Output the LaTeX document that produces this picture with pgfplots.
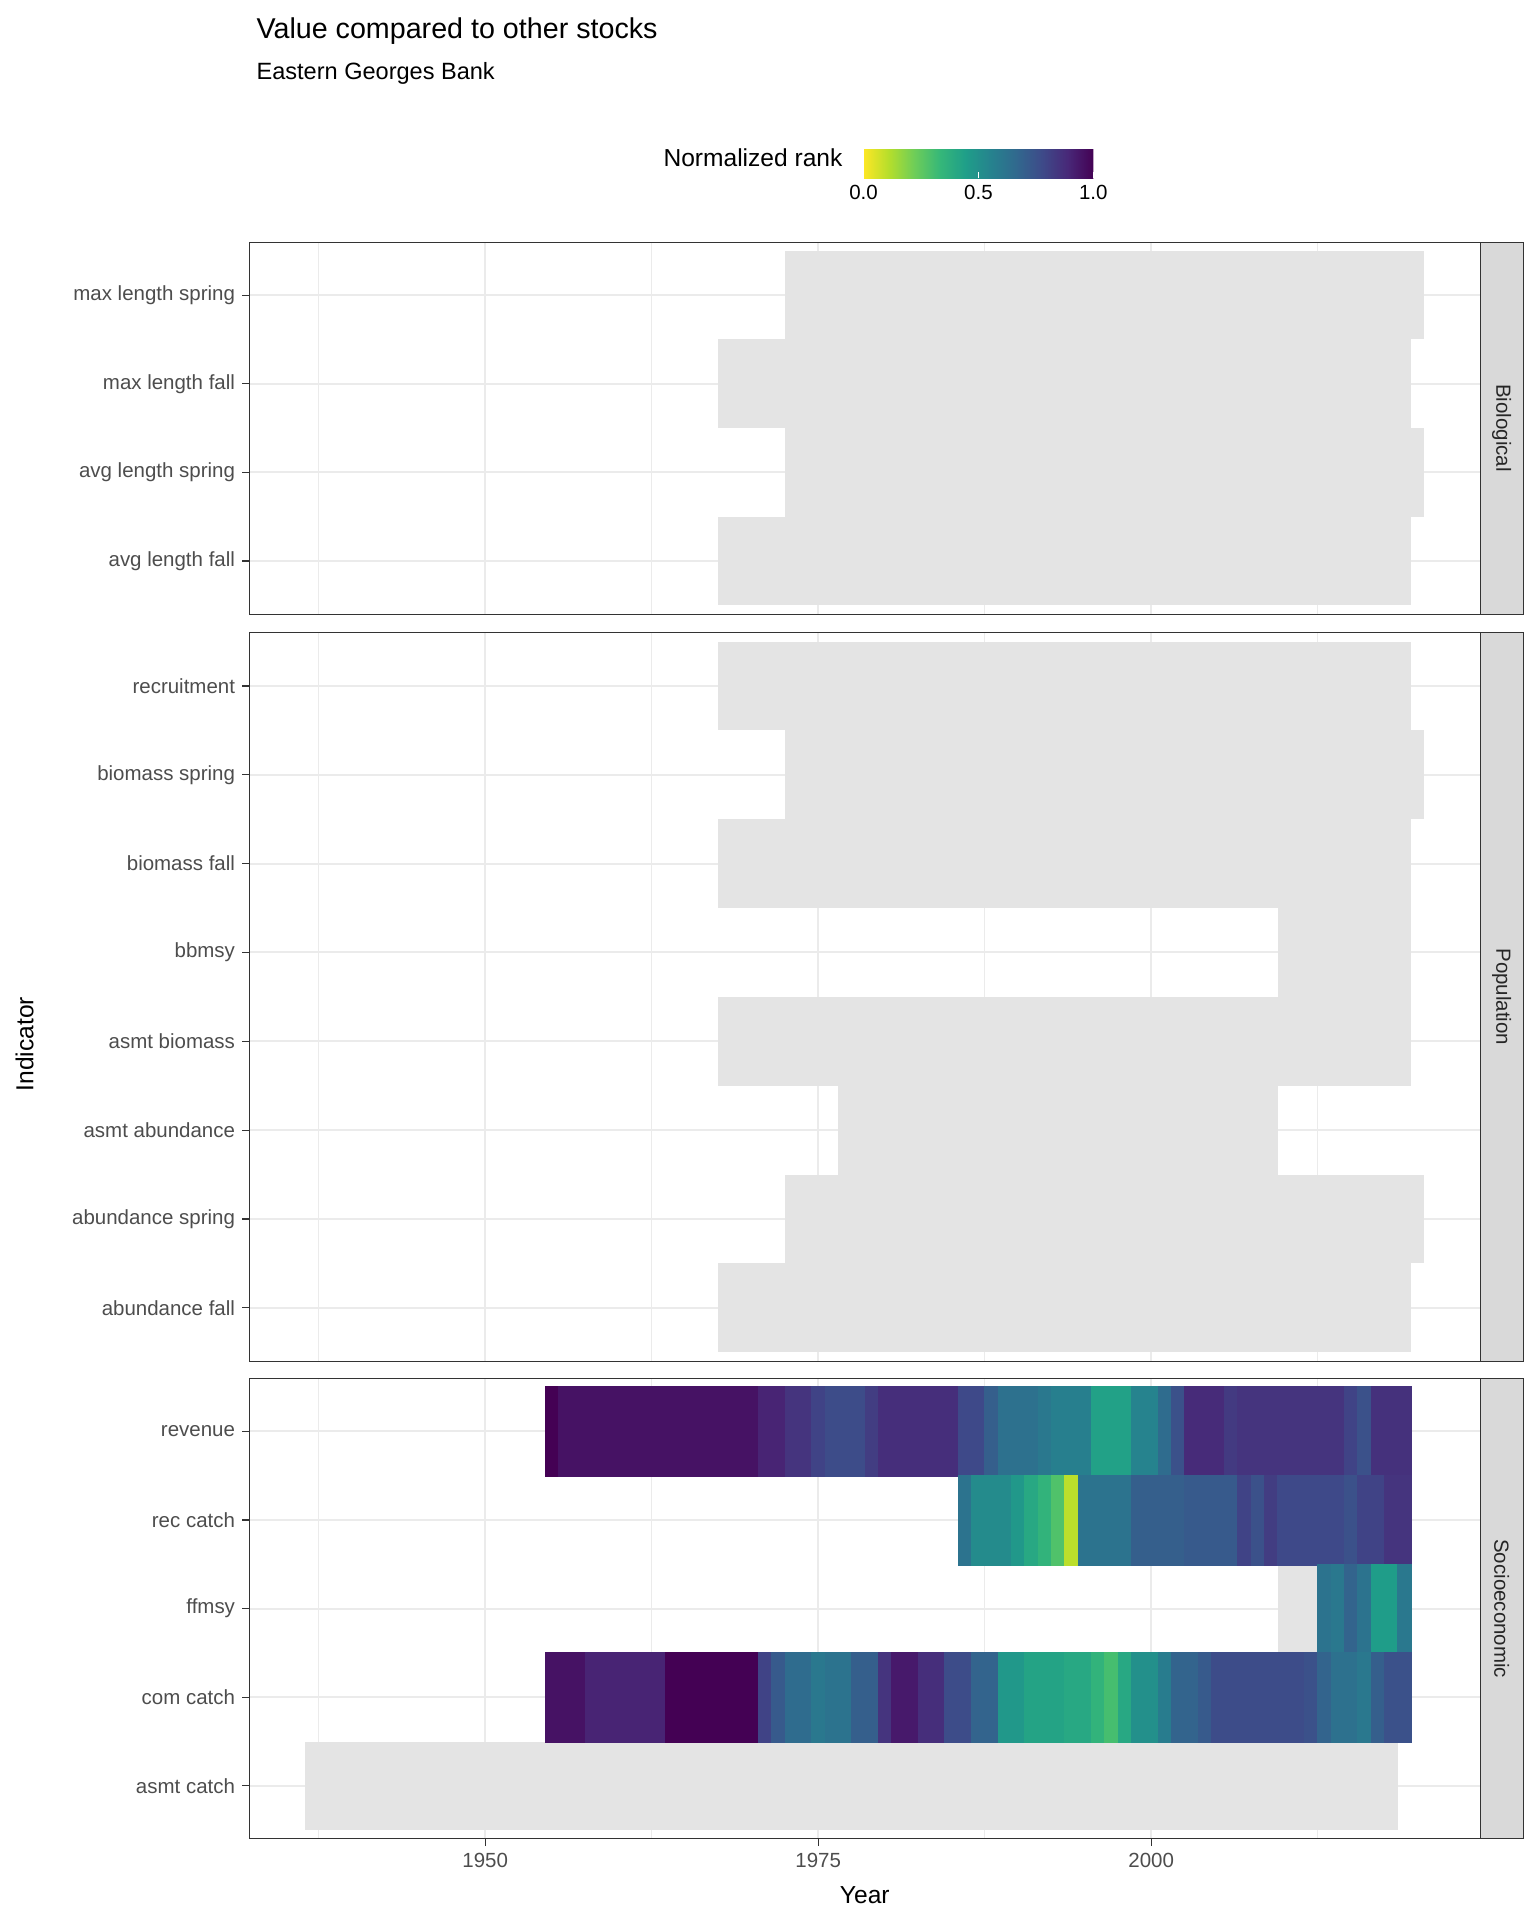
\documentclass[border=0pt]{standalone}
\usepackage{pgfplots}
\pgfplotsset{compat=1.18}
\usetikzlibrary{calc}
\usepackage{fontspec}
\setmainfont{Liberation Sans}
\definecolor{tile}{HTML}{E4E4E4}
\definecolor{gridc}{HTML}{EBEBEB}
\definecolor{tickc}{HTML}{4D4D4D}
\definecolor{frame}{HTML}{333333}
\definecolor{strip}{HTML}{D9D9D9}
\pgfplotsset{
  colormap={vr}{rgb255=(253,231,37) rgb255=(180,222,44) rgb255=(109,205,89) rgb255=(53,183,121) rgb255=(31,158,137) rgb255=(38,130,142) rgb255=(49,104,142) rgb255=(62,74,137) rgb255=(72,40,120) rgb255=(68,1,84)},
  panel/.style={scale only axis, width=601.2pt, xmin=1932.3, xmax=2024.7,
    point meta min=0, point meta max=1,
    axis line style={frame, line width=0.5pt},
    xtick={1950,1975,2000}, minor xtick={1937.5,1962.5,1987.5,2012.5},
    grid=both, major grid style={gridc, line width=1pt}, minor grid style={gridc, line width=0.5pt},
    ytick pos=left, xtick pos=bottom, tick align=outside,
    major tick length=3.5pt, minor tick length=0pt,
    tick style={frame, line width=0.6pt},
    yticklabel style={font=\fontsize{10}{12}\selectfont, text=tickc},
    xticklabel style={font=\fontsize{10}{12}\selectfont, text=tickc},
    /pgf/number format/assume math mode=true,
    /pgf/number format/1000 sep={},
    axis on top=false},
  gt/.style={fill=tile, draw=none},
  ct/.style={scatter, only marks, point meta=explicit, mark=square*, mark size=3.35pt,
    scatter/use mapped color={draw=mapped color, fill=mapped color},
    every mark/.append style={yscale=6.55, line width=0.1pt}},
}
\begin{document}
\begin{tikzpicture}
\path[use as bounding box] (0,0) rectangle (750pt,-937.8pt);
\node[anchor=base west, font=\fontsize{14}{16}\selectfont] at (121.8pt,-19pt) {Value compared to other stocks};
\node[anchor=base west, font=\fontsize{11.5}{14}\selectfont] at (121.8pt,-39pt) {Eastern Georges Bank};
\node[anchor=east, font=\fontsize{12}{14}\selectfont] at (415pt,-77pt) {Normalized rank};
\node[rotate=90, font=\fontsize{12}{14}\selectfont] at (12pt,-510pt) {Indicator};
\node[font=\fontsize{12}{14}\selectfont] at (422.4pt,-925.5pt) {Year};
% Biological
\begin{axis}[panel, name=bio, at={(121.8pt,-300pt)}, anchor=south west, height=181.8pt,
  ymin=0.4, ymax=4.6, ytick={1,2,3,4},
  yticklabels={avg length fall,avg length spring,max length fall,max length spring},
  xticklabels={}, xtick style={/pgfplots/major tick length=0pt},
  colormap name=vr, colorbar horizontal,
  colorbar style={at={(parent axis.north west)}, anchor=south west, xshift=300pt, yshift=39.6pt,
    width=112.2pt, height=21.6pt, xtick={0,0.5,1}, xticklabels={0.0,0.5,1.0},
    xticklabel style={font=\fontsize{10}{12}\selectfont}, major tick length=3pt,
    xtick style={white}, axis line style={draw=none}}]
\addplot[gt] coordinates {(1967.5,0.5)(2019.5,0.5)(2019.5,1.5)(1967.5,1.5)} -- cycle;
\addplot[gt] coordinates {(1972.5,1.5)(2020.5,1.5)(2020.5,2.5)(1972.5,2.5)} -- cycle;
\addplot[gt] coordinates {(1967.5,2.5)(2019.5,2.5)(2019.5,3.5)(1967.5,3.5)} -- cycle;
\addplot[gt] coordinates {(1972.5,3.5)(2020.5,3.5)(2020.5,4.5)(1972.5,4.5)} -- cycle;
\end{axis}
% Population
\begin{axis}[panel, name=pop, at={(121.8pt,-664.8pt)}, anchor=south west, height=355.8pt,
  ymin=0.4, ymax=8.6, ytick={1,...,8},
  yticklabels={abundance fall,abundance spring,asmt abundance,asmt biomass,bbmsy,biomass fall,biomass spring,recruitment},
  xticklabels={}, xtick style={/pgfplots/major tick length=0pt}]
\addplot[gt] coordinates {(1967.5,0.5)(2019.5,0.5)(2019.5,1.5)(1967.5,1.5)} -- cycle;
\addplot[gt] coordinates {(1972.5,1.5)(2020.5,1.5)(2020.5,2.5)(1972.5,2.5)} -- cycle;
\addplot[gt] coordinates {(1976.5,2.5)(2009.5,2.5)(2009.5,3.5)(1976.5,3.5)} -- cycle;
\addplot[gt] coordinates {(1967.5,3.5)(2019.5,3.5)(2019.5,4.5)(1967.5,4.5)} -- cycle;
\addplot[gt] coordinates {(2009.5,4.5)(2019.5,4.5)(2019.5,5.5)(2009.5,5.5)} -- cycle;
\addplot[gt] coordinates {(1967.5,5.5)(2019.5,5.5)(2019.5,6.5)(1967.5,6.5)} -- cycle;
\addplot[gt] coordinates {(1972.5,6.5)(2020.5,6.5)(2020.5,7.5)(1972.5,7.5)} -- cycle;
\addplot[gt] coordinates {(1967.5,7.5)(2019.5,7.5)(2019.5,8.5)(1967.5,8.5)} -- cycle;
\end{axis}
% Socioeconomic
\begin{axis}[panel, name=soc, at={(121.8pt,-898.2pt)}, anchor=south west, height=225pt,
  ymin=0.4, ymax=5.6, ytick={1,...,5}, colormap name=vr,
  yticklabels={asmt catch,com catch,ffmsy,rec catch,revenue}]
\addplot[gt] coordinates {(1936.5,0.5)(2018.5,0.5)(2018.5,1.5)(1936.5,1.5)} -- cycle;
\addplot[gt] coordinates {(2009.5,2.5)(2012.5,2.5)(2012.5,3.5)(2009.5,3.5)} -- cycle;
% revenue
\addplot[ct] coordinates {
(1955,5)[1.0] (1956,5)[0.95] (1957,5)[0.95] (1958,5)[0.95] (1959,5)[0.95] (1960,5)[0.95]
(1961,5)[0.95] (1962,5)[0.95] (1963,5)[0.95] (1964,5)[0.95] (1965,5)[0.95] (1966,5)[0.95]
(1967,5)[0.95] (1968,5)[0.95] (1969,5)[0.95] (1970,5)[0.95] (1971,5)[0.9] (1972,5)[0.9]
(1973,5)[0.85] (1974,5)[0.85] (1975,5)[0.8] (1976,5)[0.77] (1977,5)[0.77] (1978,5)[0.77]
(1979,5)[0.82] (1980,5)[0.87] (1981,5)[0.87] (1982,5)[0.87] (1983,5)[0.87] (1984,5)[0.87]
(1985,5)[0.87] (1986,5)[0.78] (1987,5)[0.78] (1988,5)[0.7] (1989,5)[0.63] (1990,5)[0.63]
(1991,5)[0.63] (1992,5)[0.6] (1993,5)[0.57] (1994,5)[0.57] (1995,5)[0.57] (1996,5)[0.43]
(1997,5)[0.43] (1998,5)[0.43] (1999,5)[0.55] (2000,5)[0.55] (2001,5)[0.65] (2002,5)[0.75]
(2003,5)[0.88] (2004,5)[0.88] (2005,5)[0.88] (2006,5)[0.83] (2007,5)[0.85] (2008,5)[0.85]
(2009,5)[0.85] (2010,5)[0.85] (2011,5)[0.85] (2012,5)[0.85] (2013,5)[0.85] (2014,5)[0.85]
(2015,5)[0.8] (2016,5)[0.75] (2017,5)[0.86] (2018,5)[0.86] (2019,5)[0.86]};
% rec catch
\addplot[ct] coordinates {
(1986,4)[0.62] (1987,4)[0.52] (1988,4)[0.52] (1989,4)[0.52] (1990,4)[0.47] (1991,4)[0.4]
(1992,4)[0.35] (1993,4)[0.28] (1994,4)[0.1] (1995,4)[0.62] (1996,4)[0.62] (1997,4)[0.62]
(1998,4)[0.62] (1999,4)[0.7] (2000,4)[0.7] (2001,4)[0.7] (2002,4)[0.7] (2003,4)[0.72]
(2004,4)[0.72] (2005,4)[0.72] (2006,4)[0.72] (2007,4)[0.8] (2008,4)[0.75] (2009,4)[0.82]
(2010,4)[0.78] (2011,4)[0.78] (2012,4)[0.78] (2013,4)[0.78] (2014,4)[0.78] (2015,4)[0.75]
(2016,4)[0.8] (2017,4)[0.8] (2018,4)[0.85] (2019,4)[0.85]};
% ffmsy
\addplot[ct] coordinates {
(2013,3)[0.62] (2014,3)[0.6] (2015,3)[0.68] (2016,3)[0.62] (2017,3)[0.45] (2018,3)[0.45] (2019,3)[0.6]};
% com catch
\addplot[ct] coordinates {
(1955,2)[0.95] (1956,2)[0.95] (1957,2)[0.95] (1958,2)[0.9] (1959,2)[0.9] (1960,2)[0.9]
(1961,2)[0.9] (1962,2)[0.9] (1963,2)[0.9] (1964,2)[1.0] (1965,2)[1.0] (1966,2)[1.0]
(1967,2)[1.0] (1968,2)[1.0] (1969,2)[1.0] (1970,2)[1.0] (1971,2)[0.8] (1972,2)[0.72]
(1973,2)[0.65] (1974,2)[0.65] (1975,2)[0.6] (1976,2)[0.62] (1977,2)[0.62] (1978,2)[0.7]
(1979,2)[0.7] (1980,2)[0.85] (1981,2)[0.93] (1982,2)[0.93] (1983,2)[0.87] (1984,2)[0.87]
(1985,2)[0.77] (1986,2)[0.77] (1987,2)[0.68] (1988,2)[0.68] (1989,2)[0.47] (1990,2)[0.47]
(1991,2)[0.42] (1992,2)[0.42] (1993,2)[0.42] (1994,2)[0.4] (1995,2)[0.4] (1996,2)[0.35]
(1997,2)[0.3] (1998,2)[0.4] (1999,2)[0.5] (2000,2)[0.5] (2001,2)[0.58] (2002,2)[0.68]
(2003,2)[0.68] (2004,2)[0.72] (2005,2)[0.77] (2006,2)[0.77] (2007,2)[0.77] (2008,2)[0.77]
(2009,2)[0.77] (2010,2)[0.77] (2011,2)[0.77] (2012,2)[0.75] (2013,2)[0.68] (2014,2)[0.63]
(2015,2)[0.63] (2016,2)[0.6] (2017,2)[0.7] (2018,2)[0.75] (2019,2)[0.75]};
\end{axis}
% strips
\foreach \n/\t in {bio/Biological, pop/Population, soc/Socioeconomic}{
  \draw[fill=strip, draw=frame, line width=0.5pt] (\n.south east) rectangle ([xshift=21pt]\n.north east);
  \node[rotate=-90, font=\fontsize{10}{12}\selectfont, text=black!85] at ($(\n.south east)!0.5!(\n.north east)+(10.5pt,0)$) {\t};
}
\end{tikzpicture}
\end{document}
